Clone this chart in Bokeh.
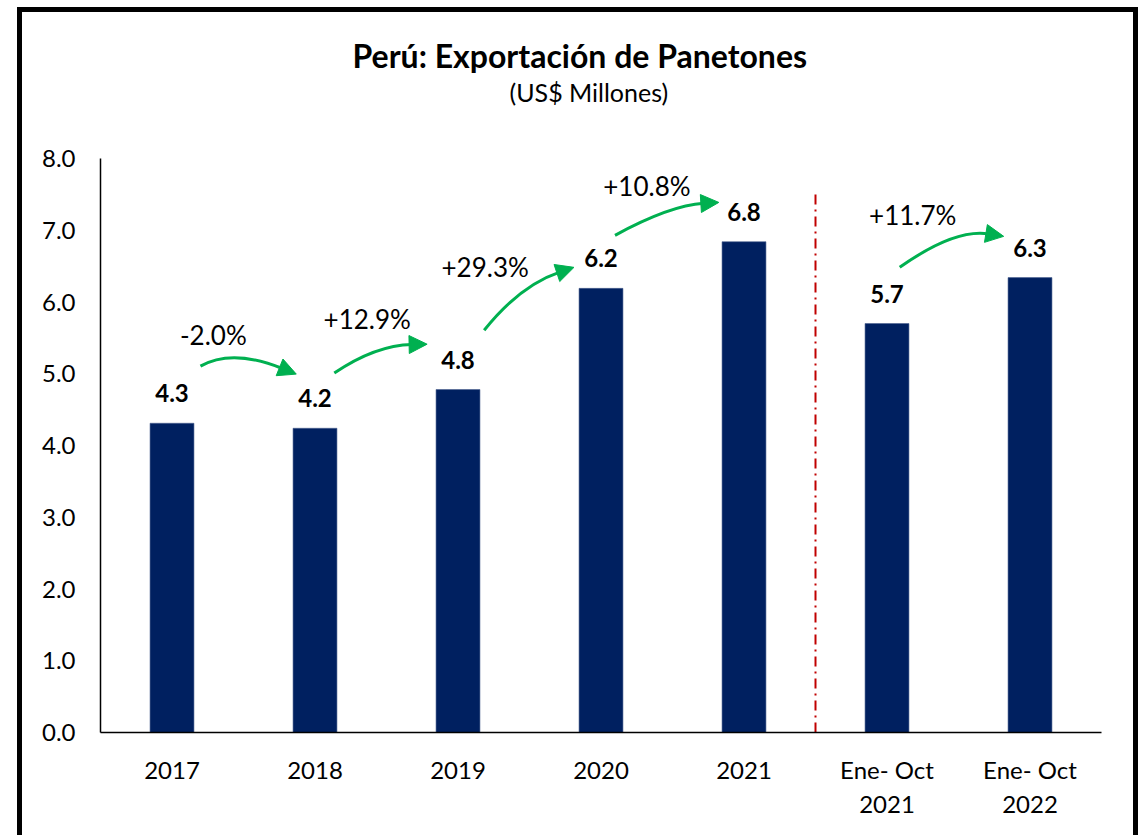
import math
from bokeh.plotting import figure
from bokeh.models import Label, Arrow, NormalHead, FixedTicker, Range1d, Title
from bokeh.core.properties import value
from bokeh.embed import file_html
from bokeh.resources import INLINE

# ---------------- data ----------------
categories = ["2017", "2018", "2019", "2020", "2021", "Ene- Oct\n2021", "Ene- Oct\n2022"]
values = [4.31, 4.24, 4.78, 6.19, 6.84, 5.70, 6.34]
growth_labels = ["-2.0%", "+12.9%", "+29.3%", "+10.8%", "+11.7%"]
y_ticks = [0, 1, 2, 3, 4, 5, 6, 7, 8]
n_annual = 5  # 2017..2021 ; separator between annual and Ene-Oct periods

# ---------------- layout (annotation positions, data units) ----------------
growth_label_pos = [(0.289, 5.426), (1.365, 5.649), (2.190, 6.372), (3.321, 7.499), (5.180, 7.096)]
# (start, control, tip) of each curved arrow
arrow_geom = [
    ((0.199, 5.106), (0.420, 5.357), (0.869, 4.995)),
    ((1.135, 5.009), (1.421, 5.398), (1.784, 5.412)),
    ((2.183, 5.607), (2.434, 6.233), (2.811, 6.483)),
    ((3.098, 6.929), (3.482, 7.346), (3.824, 7.388)),
    ((5.089, 6.483), (5.473, 7.026), (5.816, 6.915)),
]

FONT = "Lato"
NAVY = "#002060"
GREEN = "#00b050"
RED = "#c00000"

BORDER = 5
frame_w, frame_h = 1002, 575
ml, mr, mt, mb = 78, 31, 146, 102
extra_r, extra_b = 11, 6   # compensation for the CSS border handling

p = figure(
    width=ml + frame_w + mr, height=mt + frame_h + mb,
    x_range=Range1d(-0.5, len(categories) - 0.5),
    y_range=Range1d(0, 8),
    output_backend="svg", toolbar_location=None,
    min_border_left=ml, min_border_right=mr + extra_r, min_border_top=mt,
    min_border_bottom=mb + extra_b,
    styles={"box-sizing": "content-box",
            "border-top": f"{BORDER}px solid black", "border-left": f"{BORDER}px solid black",
            "border-right": f"{BORDER}px solid black", "margin-left": "17px", "margin-top": "7px"},
)
p.outline_line_color = None
p.xgrid.visible = False
p.ygrid.visible = False
p.background_fill_color = "white"
p.border_fill_color = "white"

xs = list(range(len(categories)))
p.vbar(x=xs, top=values, width=0.307, fill_color=NAVY, line_color="#4a5f8f", line_width=0.6)

# axes
p.xaxis.ticker = FixedTicker(ticks=xs)
p.xaxis.major_label_overrides = {i: c for i, c in enumerate(categories)}
p.yaxis.ticker = FixedTicker(ticks=y_ticks)
p.yaxis.major_label_overrides = {t: f"{t:.1f}" for t in y_ticks}
for ax in (p.xaxis[0], p.yaxis[0]):
    ax.major_tick_out = 0
    ax.major_tick_in = 0
    ax.minor_tick_out = 0
    ax.minor_tick_in = 0
    ax.axis_line_color = "black"
    ax.axis_line_width = 1.5
    ax.major_label_text_font = FONT
    ax.major_label_text_font_size = "24px"
    ax.major_label_text_color = "black"
p.yaxis.major_label_standoff = 25
p.xaxis.major_label_standoff = 22

# value labels
p.text(x=xs, y=values, text=[f"{v:.1f}" for v in values], text_align="center",
       text_baseline="alphabetic", y_offset=-30, text_font=value(FONT),
       text_font_style="bold", text_font_size="24px", text_color="black")

# separator
sep_x = n_annual - 0.5
p.line(x=[sep_x, sep_x], y=[0, 7.5], line_color=RED, line_width=2, line_dash="10 5 2 5")

# growth arrows
sx = frame_w / len(categories)
sy = frame_h / 8.0
head_len = 15
for (s, c, t) in arrow_geom:
    dxp = (t[0] - c[0]) * sx
    dyp = (t[1] - c[1]) * sy
    n = math.hypot(dxp, dyp)
    ux, uy = dxp / n, dyp / n
    base = (t[0] - ux * head_len / sx, t[1] - uy * head_len / sy)
    p.quadratic(x0=[s[0]], y0=[s[1]], x1=[base[0]], y1=[base[1]], cx=[c[0]], cy=[c[1]],
                line_color=GREEN, line_width=3)
    back = (t[0] - ux * (head_len + 4) / sx, t[1] - uy * (head_len + 4) / sy)
    p.add_layout(Arrow(end=NormalHead(size=18, fill_color=GREEN, line_color=GREEN, line_width=1),
                       x_start=back[0], y_start=back[1], x_end=t[0], y_end=t[1],
                       line_alpha=0))

lift = 8 / sy
for (gx, gy), lab in zip(growth_label_pos, growth_labels):
    p.add_layout(Label(x=gx, y=gy + lift, text=lab, text_align="center", text_baseline="alphabetic",
                       text_font=FONT, text_font_size="26px", text_color="black"))

# titles: spacer (closest to plot), subtitle, title
p.add_layout(Title(text=" ", text_font_size="10px", standoff=39), "above")
p.add_layout(Title(text="(US$ Millones)", align="left", offset=409, standoff=0,
                   text_font=FONT, text_font_style="normal", text_font_size="25px",
                   text_color="black"), "above")
p.add_layout(Title(text="Perú: Exportación de Panetones", align="left", offset=252, standoff=0,
                   text_font=FONT, text_font_style="bold", text_font_size="32px",
                   text_color="black"), "above")

open("out.html", "w").write(file_html(p, INLINE))
